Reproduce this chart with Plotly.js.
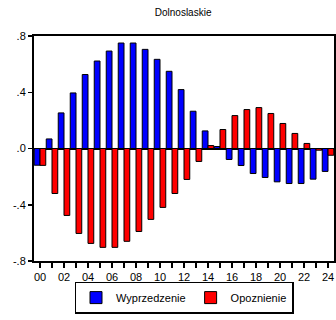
<!DOCTYPE html>
<html>
<head>
<meta charset="utf-8">
<script src="https://cdn.plot.ly/plotly-3.0.1.min.js"></script>
<style>html,body{margin:0;padding:0;background:#fff;}#chart{width:336px;height:320px;}</style>
</head>
<body>
<div id="chart"></div>
<script>
const categories = [0,1,2,3,4,5,6,7,8,9,10,11,12,13,14,15,16,17,18,19,20,21,22,23,24];
const xTickLabels = ["00","","02","","04","","06","","08","","10","","12","","14","","16","","18","","20","","22","","24"];
const wyprzedzenie = [-0.119,0.068,0.253,0.395,0.526,0.622,0.693,0.75,0.75,0.705,0.634,0.549,0.419,0.265,0.125,0.014,-0.078,-0.121,-0.178,-0.206,-0.237,-0.249,-0.249,-0.218,-0.163];
const opoznienie = [-0.12,-0.32,-0.476,-0.604,-0.675,-0.703,-0.703,-0.66,-0.59,-0.504,-0.419,-0.32,-0.22,-0.092,0.021,0.135,0.234,0.277,0.291,0.249,0.178,0.107,0.036,-0.012,-0.048];
const yTickVals = [-0.8,-0.4,0,0.4,0.8];
const yTickLabels = ["-.8","-.4",".0",".4",".8"];

const font = {family: "Liberation Sans, Arial, sans-serif", size: 11, color: "#000"};
const data = [
  {type: "bar", name: "Wyprzedzenie", x: categories, y: wyprzedzenie,
   marker: {color: "#0000ff", line: {color: "#000", width: 1}}},
  {type: "bar", name: "Opoznienie", x: categories, y: opoznienie,
   marker: {color: "#ff0000", line: {color: "#000", width: 1}}}
];
const layout = {
  width: 336, height: 320,
  margin: {l: 34, r: 2, t: 36, b: 59, autoexpand: false},
  paper_bgcolor: "#fff", plot_bgcolor: "#fff",
  font: font,
  title: {text: "Dolnoslaskie", font: {family: font.family, size: 10, color: "#000"}, x: 0.545, xanchor: "center", y: 0.962, yanchor: "middle"},
  barmode: "group", bargap: 0.04, bargroupgap: 0,
  showlegend: true,
  legend: {orientation: "h", x: 0.5, xanchor: "center", yref: "container", y: 0.02, yanchor: "bottom",
           bordercolor: "#000", borderwidth: 1.5, font: {family: font.family, size: 11, color: "#000"},
           traceorder: "normal", itemwidth: 30},
  xaxis: {range: [-0.5, 24.5], tickmode: "array", tickvals: categories, ticktext: xTickLabels,
          ticks: "outside", ticklen: 5, tickwidth: 1.5, tickcolor: "#000",
          showline: true, linecolor: "#000", linewidth: 2, mirror: true,
          showgrid: false, zeroline: false, tickfont: font, fixedrange: true},
  yaxis: {range: [-0.8, 0.8], tickmode: "array", tickvals: yTickVals, ticktext: yTickLabels,
          ticks: "outside", ticklen: 4, tickwidth: 1.5, tickcolor: "#000",
          showline: true, linecolor: "#000", linewidth: 2, mirror: true,
          showgrid: false, zeroline: true, zerolinecolor: "#000", zerolinewidth: 2,
          tickfont: font, fixedrange: true}
};
Plotly.newPlot("chart", data, layout, {displayModeBar: false, staticPlot: true});
</script>
</body>
</html>
